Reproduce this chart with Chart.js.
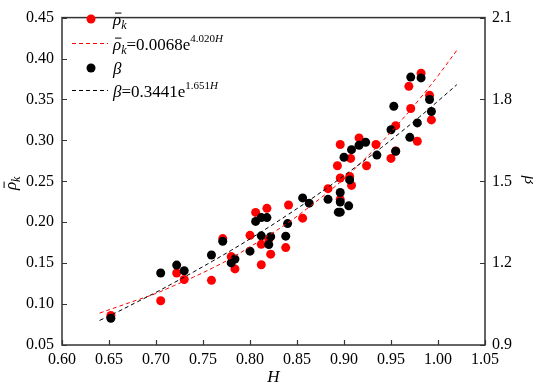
<!DOCTYPE html>
<html>
<head>
<meta charset="utf-8">
<script src="https://cdn.jsdelivr.net/npm/chart.js@4"></script>
<style>
  html, body { margin: 0; padding: 0; background: #fff; }
  #wrap { width: 533px; height: 384px; }
</style>
</head>
<body>
<div id="wrap"><canvas id="c" width="533" height="384"></canvas></div>
<script>
// ---- tick labels ----
const xTicks = [0.60, 0.65, 0.70, 0.75, 0.80, 0.85, 0.90, 0.95, 1.00, 1.05];
const leftTicks = [0.05, 0.10, 0.15, 0.20, 0.25, 0.30, 0.35, 0.40, 0.45];
const rightTicks = [0.9, 1.2, 1.5, 1.8, 2.1];

// ---- measured rho_k (left axis) ----
const rhoH = [0.652, 0.705, 0.722, 0.730, 0.759, 0.771, 0.780, 0.784, 0.800, 0.806,
              0.812, 0.812, 0.818, 0.820, 0.822, 0.838, 0.841, 0.856, 0.883, 0.893,
              0.896, 0.896, 0.896, 0.906, 0.907, 0.908, 0.916, 0.924, 0.934, 0.950,
              0.955, 0.955, 0.969, 0.971, 0.978, 0.982, 0.991, 0.993];
const rhoVal = [0.086, 0.104, 0.138, 0.130, 0.129, 0.180, 0.158, 0.143, 0.184, 0.212,
                0.173, 0.148, 0.217, 0.179, 0.161, 0.169, 0.221, 0.205, 0.241, 0.269,
                0.295, 0.254, 0.228, 0.256, 0.278, 0.245, 0.303, 0.269, 0.295, 0.278,
                0.287, 0.318, 0.366, 0.339, 0.299, 0.382, 0.355, 0.325];

// ---- measured beta (right axis) ----
const betaH = [0.652, 0.705, 0.722, 0.730, 0.759, 0.771, 0.780, 0.784, 0.800, 0.806,
               0.812, 0.812, 0.818, 0.820, 0.822, 0.838, 0.840, 0.856, 0.863, 0.883,
               0.894, 0.896, 0.896, 0.896, 0.900, 0.905, 0.906, 0.908, 0.916, 0.923,
               0.935, 0.950, 0.953, 0.955, 0.970, 0.971, 0.978, 0.982, 0.991, 0.993];
const betaVal = [0.998, 1.164, 1.193, 1.172, 1.230, 1.280, 1.201, 1.215, 1.244, 1.353,
                 1.367, 1.300, 1.367, 1.268, 1.297, 1.299, 1.345, 1.439, 1.420, 1.434,
                 1.387, 1.387, 1.424, 1.459, 1.588, 1.410, 1.505, 1.616, 1.632, 1.643,
                 1.596, 1.689, 1.775, 1.610, 1.661, 1.882, 1.714, 1.879, 1.800, 1.756];

// ---- fitted curves ----
const fitH = [0.64, 0.66, 0.68, 0.70, 0.72, 0.74, 0.76, 0.78, 0.80, 0.82,
              0.84, 0.86, 0.88, 0.90, 0.92, 0.94, 0.96, 0.98, 1.00, 1.02];
const rhoFit = [0.089, 0.097, 0.105, 0.113, 0.123, 0.133, 0.144, 0.156, 0.170, 0.184,
                0.199, 0.216, 0.234, 0.253, 0.275, 0.298, 0.323, 0.350, 0.379, 0.410];
const betaFit = [0.990, 1.023, 1.058, 1.093, 1.130, 1.168, 1.207, 1.247, 1.289, 1.332,
                 1.377, 1.423, 1.471, 1.521, 1.572, 1.624, 1.679, 1.735, 1.794, 1.854];

const SERIF = '"Liberation Serif", "Times New Roman", serif';
const zip = (xs, ys) => xs.map((x, i) => ({ x: x, y: ys[i] }));

function drawRhoK(ctx, x, baseline, size) {
  ctx.font = 'italic ' + size + 'px ' + SERIF;
  ctx.textAlign = 'left';
  ctx.textBaseline = 'alphabetic';
  ctx.fillText('ρ', x, baseline);
  const w = ctx.measureText('ρ').width;
  ctx.save();
  ctx.lineWidth = 1;
  ctx.beginPath();
  ctx.moveTo(x + 0.12 * size, baseline - 0.70 * size);
  ctx.lineTo(x + w + 0.02 * size, baseline - 0.70 * size);
  ctx.stroke();
  ctx.restore();
  const ks = Math.round(size * 0.68);
  ctx.font = 'italic ' + ks + 'px ' + SERIF;
  ctx.fillText('k', x + w, baseline + 0.22 * size);
  return x + w + ctx.measureText('k').width;
}

function drawEq(ctx, x, baseline, size, main, sup, supSize) {
  ctx.font = size + 'px ' + SERIF;
  ctx.textAlign = 'left';
  ctx.textBaseline = 'alphabetic';
  ctx.fillText(main, x, baseline);
  let cx = x + ctx.measureText(main).width;
  const sb = baseline - 0.45 * size;
  ctx.font = supSize + 'px ' + SERIF;
  ctx.fillText(sup, cx, sb);
  cx += ctx.measureText(sup).width;
  ctx.font = 'italic ' + supSize + 'px ' + SERIF;
  ctx.fillText('H', cx, sb);
}

const decorPlugin = {
  id: 'decor',
  afterDraw(chart) {
    const ctx = chart.ctx;
    const a = chart.chartArea;
    const sx = chart.scales.x, sy = chart.scales.y, sy2 = chart.scales.y2;
    ctx.save();
    ctx.strokeStyle = '#333';
    ctx.lineWidth = 1.5;
    // frame
    ctx.strokeRect(a.left, a.top, a.right - a.left, a.bottom - a.top);
    // inward ticks
    ctx.lineWidth = 1.2;
    ctx.beginPath();
    sx.ticks.forEach(t => {
      const p = Math.round(sx.getPixelForValue(t.value)) + 0.5;
      ctx.moveTo(p, a.bottom); ctx.lineTo(p, a.bottom - 5);
    });
    sy.ticks.forEach(t => {
      const p = Math.round(sy.getPixelForValue(t.value)) + 0.5;
      ctx.moveTo(a.left, p); ctx.lineTo(a.left + 5, p);
    });
    sy2.ticks.forEach(t => {
      const p = Math.round(sy2.getPixelForValue(t.value)) + 0.5;
      ctx.moveTo(a.right, p); ctx.lineTo(a.right - 5, p);
    });
    ctx.stroke();
    ctx.restore();

    // legend
    ctx.save();
    ctx.fillStyle = '#ff0000';
    ctx.beginPath(); ctx.arc(91, 19, 4.5, 0, 2 * Math.PI); ctx.fill();
    ctx.fillStyle = '#000';
    ctx.beginPath(); ctx.arc(91, 68, 4.5, 0, 2 * Math.PI); ctx.fill();
    ctx.lineWidth = 1;
    ctx.setLineDash([4, 3]);
    ctx.strokeStyle = '#ff0000';
    ctx.beginPath(); ctx.moveTo(72, 43.5); ctx.lineTo(108, 43.5); ctx.stroke();
    ctx.strokeStyle = '#000';
    ctx.beginPath(); ctx.moveTo(72, 90.5); ctx.lineTo(108, 90.5); ctx.stroke();
    ctx.setLineDash([]);
    ctx.fillStyle = '#000';
    ctx.strokeStyle = '#000';
    drawRhoK(ctx, 113, 25, 17);
    let nx = drawRhoK(ctx, 113, 50, 17);
    drawEq(ctx, nx, 50, 17, '=0.0068e', '4.020', 11);
    ctx.font = 'italic 17px ' + SERIF;
    ctx.fillText('β', 113, 74);
    const bw = ctx.measureText('β').width;
    ctx.fillText('β', 113, 97);
    drawEq(ctx, 113 + bw, 97, 17, '=0.3441e', '1.651', 11);

    // axis titles
    ctx.font = 'italic 17px ' + SERIF;
    ctx.textAlign = 'center';
    ctx.fillText('H', (a.left + a.right) / 2, 382);

    ctx.save();
    ctx.translate(16, 182);
    ctx.rotate(-Math.PI / 2);
    ctx.font = 'italic 17px ' + SERIF;
    const rw = ctx.measureText('ρ').width + 8;
    drawRhoK(ctx, -rw / 2, 0, 17);
    ctx.restore();

    ctx.save();
    ctx.translate(525, 180);
    ctx.rotate(Math.PI / 2);
    ctx.font = 'italic 17px ' + SERIF;
    ctx.textAlign = 'center';
    ctx.fillText('β', 0, 0);
    ctx.restore();
    ctx.restore();
  }
};

new Chart(document.getElementById('c'), {
  type: 'scatter',
  data: {
    datasets: [
      { label: 'rho fit', type: 'line', data: zip(fitH, rhoFit), yAxisID: 'y',
        borderColor: '#ff0000', borderWidth: 1, borderDash: [4, 3], pointRadius: 0,
        tension: 0.4, fill: false, order: 1 },
      { label: 'beta fit', type: 'line', data: zip(fitH, betaFit), yAxisID: 'y2',
        borderColor: '#000000', borderWidth: 1, borderDash: [4, 3], pointRadius: 0,
        tension: 0.4, fill: false, order: 0 },
      { label: 'rho_k', data: zip(rhoH, rhoVal), yAxisID: 'y',
        backgroundColor: '#ff0000', borderColor: '#ff0000', pointRadius: 4.5,
        borderWidth: 0, order: 3 },
      { label: 'beta', data: zip(betaH, betaVal), yAxisID: 'y2',
        backgroundColor: '#000000', borderColor: '#000000', pointRadius: 4.5,
        borderWidth: 0, order: 2 }
    ]
  },
  options: {
    responsive: false,
    animation: false,
    layout: { padding: { top: 6, left: 0, right: 0, bottom: 0 } },
    plugins: { legend: { display: false }, tooltip: { enabled: false } },
    scales: {
      x: {
        type: 'linear', position: 'bottom', min: 0.60, max: 1.05,
        afterBuildTicks: s => { s.ticks = xTicks.map(v => ({ value: v })); },
        afterFit: s => { s.height = 39; },
        grid: { display: false, drawTicks: false },
        border: { display: false },
        ticks: { color: '#000', padding: 5, maxRotation: 0, autoSkip: false,
                 font: { family: SERIF, size: 16 },
                 callback: v => Number(v).toFixed(2) }
      },
      y: {
        type: 'linear', position: 'left', min: 0.05, max: 0.45,
        afterBuildTicks: s => { s.ticks = leftTicks.map(v => ({ value: v })); },
        afterFit: s => { s.width = 62; },
        grid: { display: false, drawTicks: false },
        border: { display: false },
        ticks: { color: '#000', padding: 8, autoSkip: false,
                 font: { family: SERIF, size: 16 },
                 callback: v => Number(v).toFixed(2) }
      },
      y2: {
        type: 'linear', position: 'right', min: 0.9, max: 2.1,
        afterBuildTicks: s => { s.ticks = rightTicks.map(v => ({ value: v })); },
        afterFit: s => { s.width = 48; },
        grid: { display: false, drawTicks: false },
        border: { display: false },
        ticks: { color: '#000', padding: 7, autoSkip: false,
                 font: { family: SERIF, size: 16 },
                 callback: v => Number(v).toFixed(1) }
      }
    }
  },
  plugins: [decorPlugin]
});
</script>
</body>
</html>
